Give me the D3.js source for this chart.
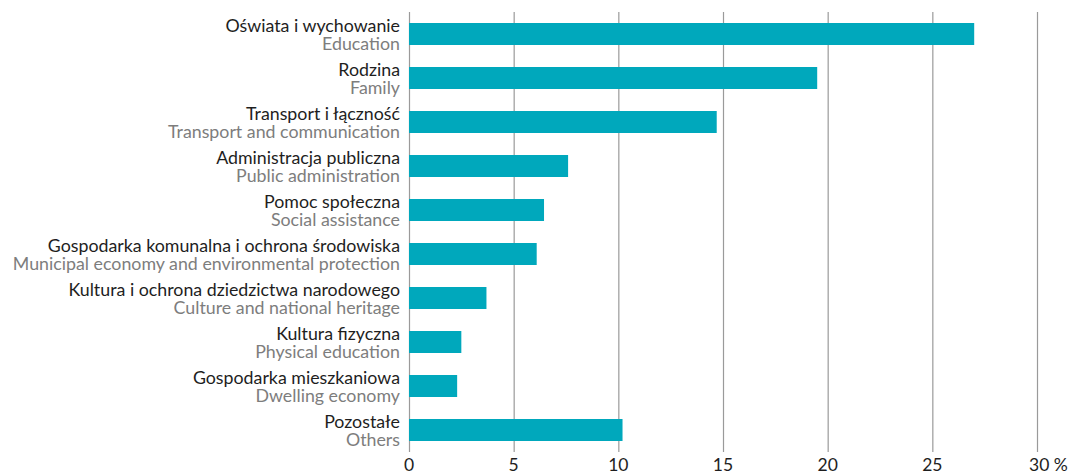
<!DOCTYPE html>
<html><head><meta charset="utf-8">
<script src="https://cdn.jsdelivr.net/npm/d3@7"></script>
<style>body{margin:0;background:#fff}svg{display:block}</style>
</head><body>
<svg id="c" width="1068" height="475"></svg>
<script>
const labelsPl = ["Oświata i wychowanie","Rodzina","Transport i łączność","Administracja publiczna","Pomoc społeczna","Gospodarka komunalna i ochrona środowiska","Kultura i ochrona dziedzictwa narodowego","Kultura fizyczna","Gospodarka mieszkaniowa","Pozostałe"];
const labelsEn = ["Education","Family","Transport and communication","Public administration","Social assistance","Municipal economy and environmental protection","Culture and national heritage","Physical education","Dwelling economy","Others"];
const values = [27.0,19.5,14.7,7.6,6.45,6.1,3.7,2.5,2.3,10.2];
const ticks = [0,5,10,15,20,25,30];
const tickLabels = ["0","5","10","15","20","25","30 %"];

const svg = d3.select("#c");
const font = "Lato, sans-serif";
const x = d3.scaleLinear().domain([0,30]).range([409,1037]);
const y = d3.scaleBand().domain(d3.range(values.length)).range([12,452]).paddingInner(0.5).paddingOuter(0.25);

svg.append("g").selectAll("line").data(ticks).join("line")
  .attr("x1",d=>x(d)+0.5).attr("x2",d=>x(d)+0.5).attr("y1",12).attr("y2",452)
  .attr("stroke","#9a9a9a").attr("stroke-width",1.2);

svg.append("g").selectAll("rect").data(values).join("rect")
  .attr("x",x(0)).attr("y",(d,i)=>y(i)).attr("width",d=>x(d)-x(0)).attr("height",y.bandwidth())
  .attr("fill","#00a8bc");

const lab = svg.append("g").attr("font-family",font).attr("text-anchor","end");
values.forEach((v,i)=>{
  const cy = y(i)+y.bandwidth()/2;
  lab.append("text").attr("x",400).attr("y",cy-2.5).attr("font-size",17.8).attr("fill","#1e1e1e").text(labelsPl[i]);
  lab.append("text").attr("x",400).attr("y",cy+15.5).attr("font-size",17.8).attr("fill","#7d7d7d").text(labelsEn[i]);
});

svg.append("g").attr("font-family",font).attr("font-size",17.5).attr("fill","#1e1e1e")
  .selectAll("text").data(ticks).join("text")
  .attr("x",d=>x(d)).attr("y",471).attr("text-anchor",(d,i)=>i===ticks.length-1?"start":"middle")
  .attr("dx",(d,i)=>i===ticks.length-1?-8:0)
  .text((d,i)=>tickLabels[i]);
</script>
</body></html>
